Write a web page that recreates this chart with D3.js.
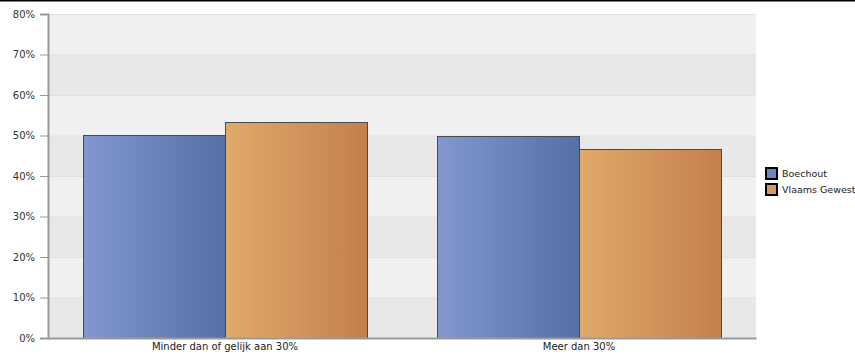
<!DOCTYPE html>
<html><head><meta charset="utf-8">
<script src="https://cdn.jsdelivr.net/npm/d3@7/dist/d3.min.js"></script>
<style>body{margin:0;background:#fff;}svg{display:block;}</style>
</head><body>
<svg id="c" width="855" height="354"></svg>
<script>
const categories = ["Minder dan of gelijk aan 30%", "Meer dan 30%"];
const seriesNames = ["Boechout", "Vlaams Gewest"];
const boechout = [50.2, 49.8];
const vlaams = [53.4, 46.6];
const yTicks = [0, 10, 20, 30, 40, 50, 60, 70, 80];

const svg = d3.select("#c");
const font = "DejaVu Sans, Verdana, sans-serif";
const L = 48, R = 756, T = 14, B = 338;
const x = d3.scaleBand().domain(categories).range([L, R]).paddingInner(0).paddingOuter(0);
const y = d3.scaleLinear().domain([0, 80]).range([B, T]);
const xs = d3.scaleBand().domain(seriesNames).range([0, x.bandwidth()]).paddingInner(0).paddingOuter(0.246);

// top border
svg.append("rect").attr("x",0).attr("y",0).attr("width",855).attr("height",1.5).attr("fill","#000");

const defs = svg.append("defs");
const grads = [["gB","#8297d0","#5470a5"],["gV","#e0aa6a","#c47f4b"]];
grads.forEach(([id,a,b])=>{
  const g = defs.append("linearGradient").attr("id",id).attr("x1","0").attr("x2","1").attr("y1","0").attr("y2","0");
  g.append("stop").attr("offset","0").attr("stop-color",a);
  g.append("stop").attr("offset","1").attr("stop-color",b);
});

// bands
for (let i=0;i<yTicks.length-1;i++){
  svg.append("rect").attr("x",L).attr("width",R-L)
    .attr("y",y(yTicks[i+1])).attr("height",y(yTicks[i])-y(yTicks[i+1]))
    .attr("fill", i%2===0 ? "#e8e8e8" : "#f0f0f0");
}
// gridlines
svg.append("g").selectAll("line").data(yTicks.slice(1)).join("line")
  .attr("x1",L).attr("x2",R).attr("y1",d=>y(d)+0.5).attr("y2",d=>y(d)+0.5)
  .attr("stroke","#e0e0e0").attr("stroke-width",1);

// bars
const data = categories.map((c,i)=>({c, vals:[boechout[i], vlaams[i]]}));
const gb = svg.append("g");
data.forEach(d=>{
  d.vals.forEach((v,j)=>{
    gb.append("rect")
      .attr("x", Math.round(x(d.c)+xs(seriesNames[j]))+0.5)
      .attr("y", Math.round(y(v))+0.5)
      .attr("width", Math.round(xs.bandwidth()))
      .attr("height", B-Math.round(y(v)))
      .attr("fill", j===0?"url(#gB)":"url(#gV)")
      .attr("stroke","#4a4a4a").attr("stroke-width",1);
  });
});

// y axis
const ya = svg.append("g").attr("transform",`translate(${L},0)`)
  .call(d3.axisLeft(y).tickValues(yTicks).tickFormat(d=>d+"%").tickSize(8).tickPadding(5));
ya.select(".domain").attr("stroke","#999").attr("stroke-width",2);
ya.selectAll(".tick line").attr("stroke","#999");
ya.selectAll("text").attr("font-family",font).attr("font-size","10px").attr("fill","#333");

// x axis
const xa = svg.append("g").attr("transform",`translate(0,${B})`)
  .call(d3.axisBottom(x).tickSize(0).tickPadding(5));
xa.select(".domain").attr("stroke","#999").attr("stroke-width",2);
xa.selectAll("text").attr("font-family",font).attr("font-size","10px").attr("fill","#222");

// legend
const lg = svg.append("g").attr("transform","translate(765,167)");
seriesNames.forEach((s,i)=>{
  lg.append("rect").attr("x",1).attr("y",i*16+1).attr("width",11).attr("height",11)
    .attr("fill", i===0?"#6d85c2":"#d8995e").attr("stroke","#000").attr("stroke-width",2);
  lg.append("text").attr("x",17).attr("y",i*16+10).text(s)
    .attr("font-family",font).attr("font-size","9.5px").attr("fill","#222");
});
</script>
</body></html>
